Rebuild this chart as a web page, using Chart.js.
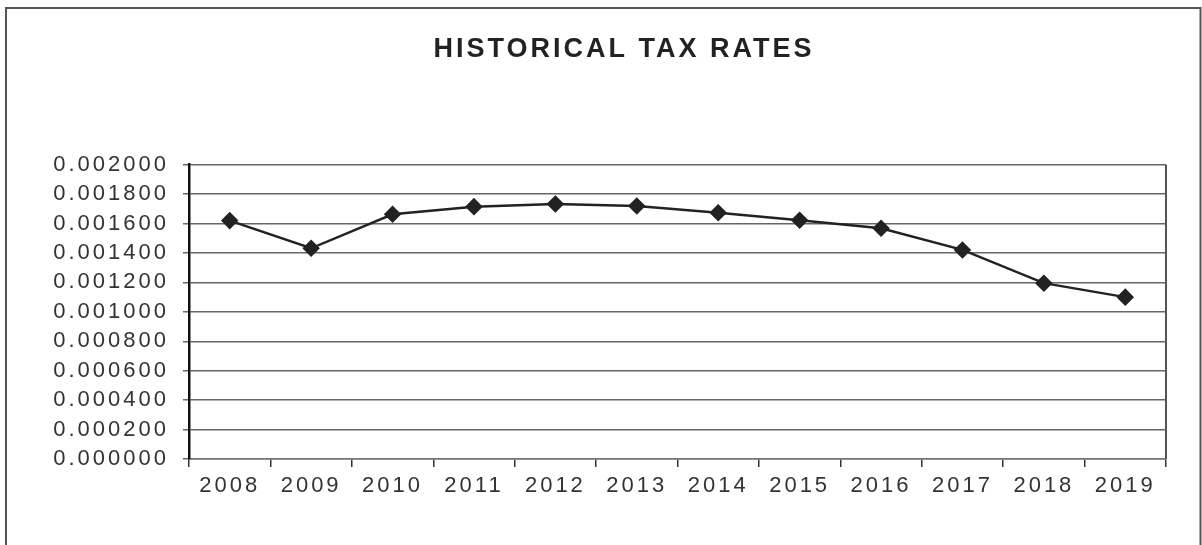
<!DOCTYPE html>
<html>
<head>
<meta charset="utf-8">
<script src="https://cdn.jsdelivr.net/npm/chart.js@4/dist/chart.umd.min.js"></script>
<style>
  body { margin: 0; background: #fff; }
  #wrap { width: 1202px; height: 545px; }
</style>
</head>
<body>
<div id="wrap"><canvas id="tax-chart" width="1202" height="545"></canvas></div>
<script>
// Chart data
const years = ['2008', '2009', '2010', '2011', '2012', '2013', '2014', '2015', '2016', '2017', '2018', '2019'];
const taxRates = [0.001620, 0.001432, 0.001663, 0.001715, 0.001733, 0.001720, 0.001674, 0.001623, 0.001568, 0.001421, 0.001195, 0.001100];
const yMin = 0;
const yMax = 0.002;
const yStep = 0.0002;
const chartTitle = 'HISTORICAL TAX RATES';

const fontFamily = '"Liberation Sans", Arial, sans-serif';

// Outer frame, title, right plot border and wider letter spacing like the scan
const framePlugin = {
    id: 'frame',
    beforeDraw(chart) {
        const c = chart.ctx;
        c.letterSpacing = '3px';
        c.save();
        c.strokeStyle = '#555';
        c.lineWidth = 2;
        c.beginPath();
        c.moveTo(6, 600);
        c.lineTo(6, 8);
        c.lineTo(1200.5, 8);
        c.lineTo(1200.5, 600);
        c.stroke();
        // title, centred a bit right of the canvas middle as in the original
        c.fillStyle = '#222';
        c.font = 'bold 27px ' + fontFamily;
        c.textAlign = 'center';
        c.textBaseline = 'middle';
        c.fillText(chartTitle, 624, 50);
        c.restore();
    },
    afterDatasetsDraw(chart) {
        const c = chart.ctx;
        const a = chart.chartArea;
        c.save();
        c.strokeStyle = '#555';
        c.lineWidth = 2;
        c.beginPath();
        c.moveTo(a.right, a.top);
        c.lineTo(a.right, a.bottom);
        c.stroke();
        c.restore();
    }
};

const ctx = document.getElementById('tax-chart').getContext('2d');
const taxChart = new Chart(ctx, {
    type: 'line',
    data: {
        labels: years,
        datasets: [{
            data: taxRates,
            borderColor: '#222',
            borderWidth: 2.5,
            pointStyle: 'rectRot',
            pointRadius: 7,
            pointBackgroundColor: '#222',
            pointBorderColor: '#222',
            tension: 0
        }]
    },
    options: {
        responsive: false,
        animation: false,
        layout: {
            padding: { top: 164.7, left: 40, right: 36, bottom: 36 }
        },
        scales: {
            x: {
                offset: true,
                grid: {
                    offset: true,
                    drawOnChartArea: false,
                    drawTicks: true,
                    tickLength: 8,
                    color: '#333',
                    lineWidth: 1.5
                },
                border: { color: '#777', width: 1.5 },
                ticks: {
                    color: '#333',
                    padding: 6,
                    maxRotation: 0,
                    autoSkip: false,
                    font: { family: fontFamily, size: 22 }
                },
                afterFit(scale) { scale.height = 50; }
            },
            y: {
                min: yMin,
                max: yMax,
                grid: {
                    color: '#666',
                    lineWidth: 1.5,
                    tickLength: 6
                },
                border: { color: '#111', width: 2.5 },
                ticks: {
                    stepSize: yStep,
                    color: '#333',
                    padding: 14,
                    font: { family: fontFamily, size: 22 },
                    callback: value => Number(value).toFixed(6)
                },
                afterFit(scale) { scale.width = 149; }
            }
        },
        plugins: {
            legend: { display: false },
            tooltip: { enabled: false },
            title: { display: false }
        }
    },
    plugins: [framePlugin]
});
</script>
</body>
</html>
